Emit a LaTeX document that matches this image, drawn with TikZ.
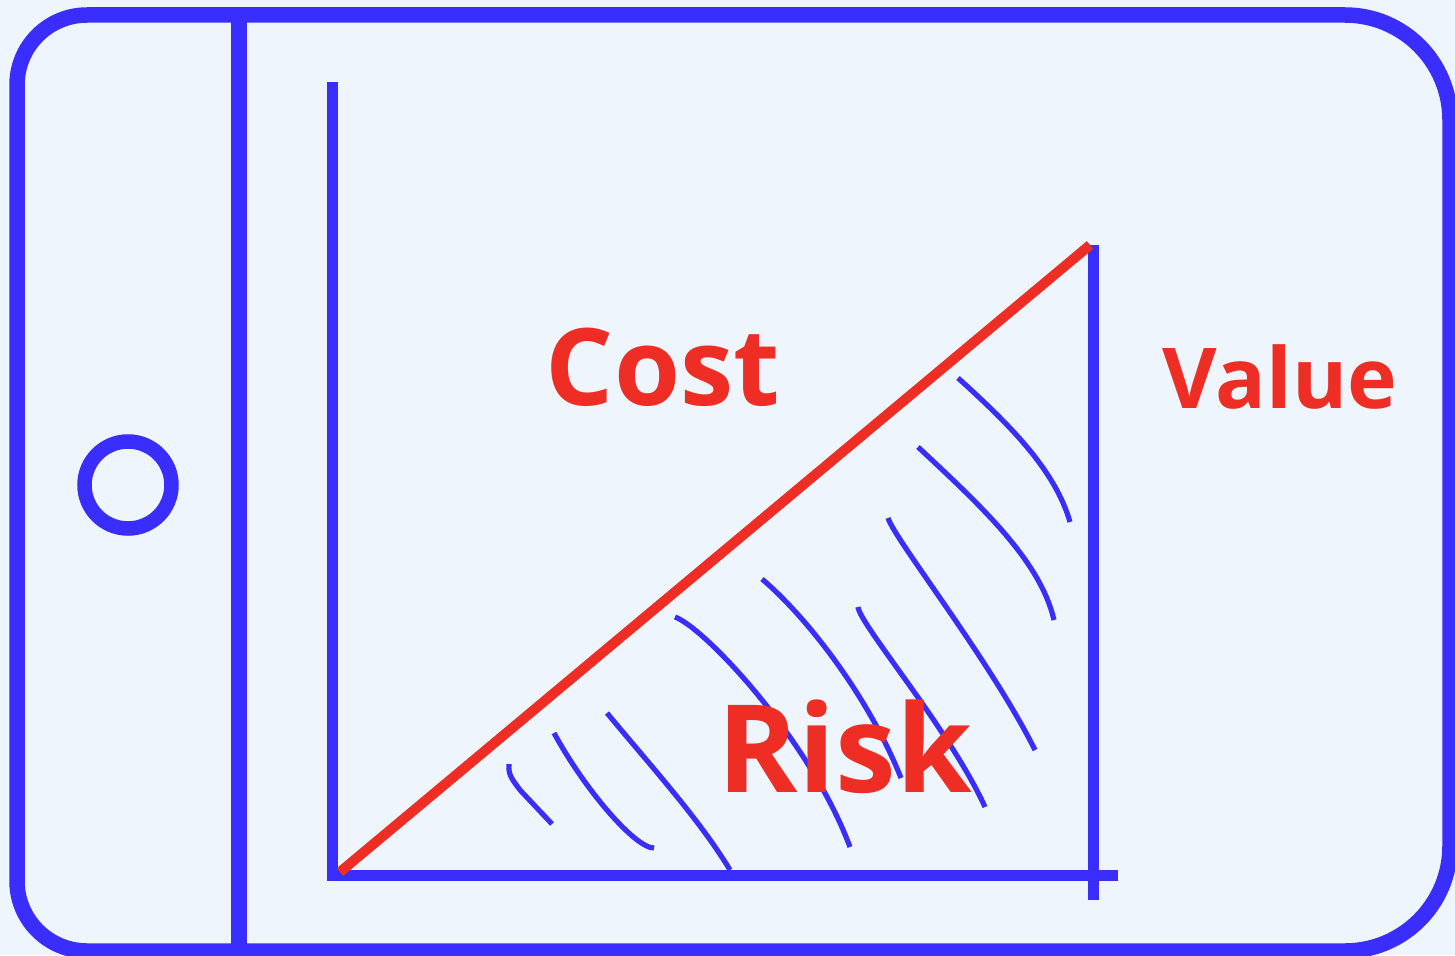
\documentclass[tikz,border=0pt]{standalone}
\usepackage{fontspec}
\setmainfont{Open Sans}
\definecolor{bg}{HTML}{EEF5FC}
\definecolor{fblue}{HTML}{3A2EFF}
\definecolor{fred}{HTML}{EE2E24}
\tikzset{
  frame/.style={draw=fblue, line width=15.5pt},
  axis/.style={draw=fblue, line width=11pt},
  hatch/.style={draw=fblue, line width=5.2pt},
  diag/.style={draw=fred, line width=10pt},
  lbl/.style={text=fred, font=\bfseries, inner sep=0pt, anchor=base}
}
\begin{document}
\begin{tikzpicture}[x=1pt,y=-1pt]
\useasboundingbox (0,0) rectangle (1455,955);
\fill[bg] (0,0) rectangle (1455,955);
% outer frame
\draw[frame] (17,500) [rounded corners=70pt] -- (17,15) [rounded corners=105pt] -- (1450,15) -- (1450,951) [rounded corners=70pt] -- (17,951) -- cycle;
\coordinate (sepT) at (239,15);
\coordinate (sepB) at (239,951);
\draw[frame] (sepT) -- (sepB);
\node[draw=fblue, line width=14.5pt, circle, minimum size=87pt, inner sep=0pt] (btn) at (128,485) {};
% axes
\coordinate (yTop) at (332,82);
\coordinate (origin) at (332,875);
\coordinate (xEnd) at (1118,875);
\coordinate (vTop) at (1093,245);
\coordinate (vBot) at (1093,900);
\draw[axis] (yTop) -- (332,880);
\draw[axis] (327,875) -- (xEnd);
\draw[axis] (vTop) -- (vBot);
% red diagonal
\coordinate (dA) at (340,872);
\coordinate (dB) at (1090,245);
\draw[diag] (dA) -- (dB);
% hatching
\draw[hatch] (509,764) .. controls (508,775) and (512,779) .. (520,790) -- (552,824);
\draw[hatch] (554,733) .. controls (585,790) and (635,848) .. (654,848);
\draw[hatch] (607,713) .. controls (650,765) and (700,820) .. (730,870);
\draw[hatch] (675,617) .. controls (705,628) and (810,740) .. (850,847);
\draw[hatch] (762,579) .. controls (810,620) and (870,700) .. (901,778);
\draw[hatch] (858,607) .. controls (860,625) and (950,730) .. (985,807);
\draw[hatch] (888,518) .. controls (895,540) and (990,660) .. (1035,750);
\draw[hatch] (918,447) .. controls (980,505) and (1040,560) .. (1054,620);
\draw[hatch] (958,378) .. controls (1010,425) and (1055,470) .. (1070,522);
% labels
\node[lbl, font=\bfseries\fontsize{107}{107}\selectfont] (cost) at (663,405) {Cost};
\node[lbl, font=\bfseries\fontsize{84}{84}\selectfont] (value) at (1280,408) {Value};
\node[lbl, font=\bfseries\fontsize{122}{122}\selectfont] (risk) at (845,792) {Risk};
\end{tikzpicture}
\end{document}
